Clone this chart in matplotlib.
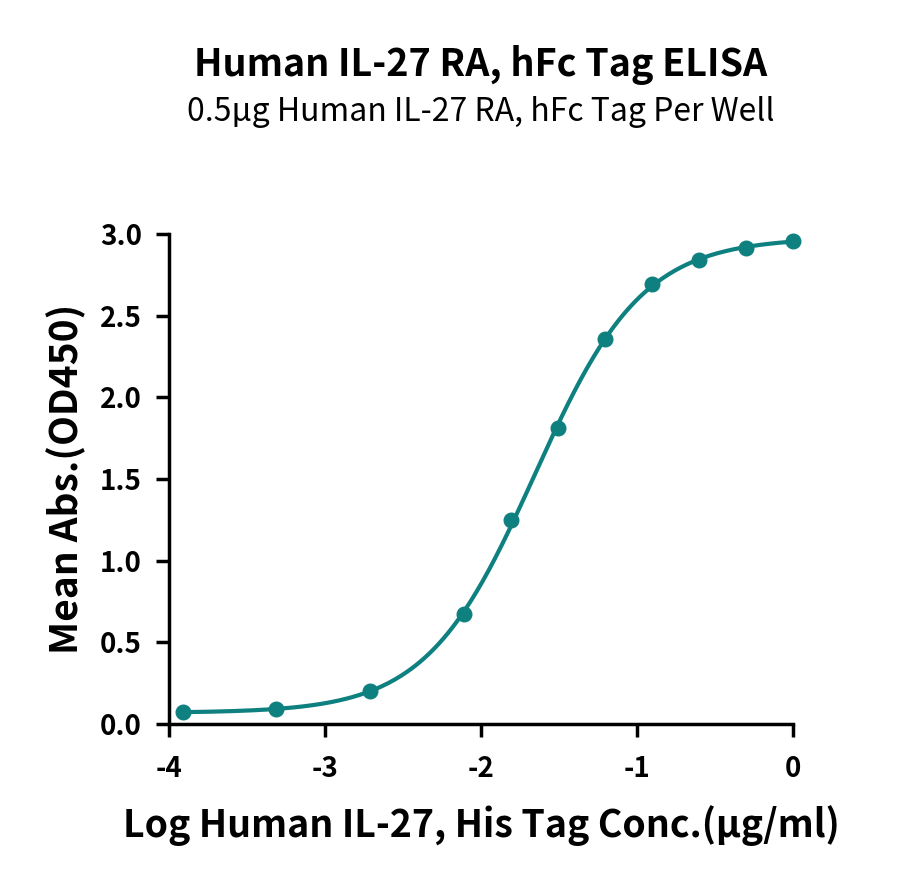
import numpy as np
import matplotlib
matplotlib.use('Agg')
import matplotlib.pyplot as plt

plt.rcParams['font.family'] = ['Noto Sans CJK SC', 'DejaVu Sans']

# data
log_conc = [-3.913, -3.311, -2.709, -2.107, -1.806, -1.505, -1.204, -0.903, -0.602, -0.301, 0.0]
mean_abs = [0.074, 0.092, 0.205, 0.672, 1.248, 1.815, 2.357, 2.695, 2.843, 2.915, 2.955]

title = 'Human IL-27 RA, hFc Tag ELISA'
subtitle = '0.5μg Human IL-27 RA, hFc Tag Per Well'
xlabel = 'Log Human IL-27, His Tag Conc.(μg/ml)'
ylabel = 'Mean Abs.(OD450)'
xticks = [-4, -3, -2, -1, 0]
yticks = [0.0, 0.5, 1.0, 1.5, 2.0, 2.5, 3.0]

color = '#0f8080'

x = np.array(log_conc)
y = np.array(mean_abs)


# 4 parameter logistic fit (simple gauss-newton, no scipy)
def fpl(p, xx):
    bot, top, ec50, hill = p
    return bot + (top - bot) / (1 + 10 ** ((ec50 - xx) * hill))


p = np.array([0.07, 3.0, -1.7, 1.2])
for it in range(200):
    r = y - fpl(p, x)
    J = np.zeros((len(x), 4))
    for k in range(4):
        dp = np.zeros(4)
        dp[k] = 1e-6
        J[:, k] = (fpl(p + dp, x) - fpl(p, x)) / 1e-6
    step = np.linalg.lstsq(J, r, rcond=None)[0]
    p = p + 0.5 * step

xs = np.linspace(x.min(), x.max(), 300)

fig = plt.figure(figsize=(9, 8.85), dpi=100)
ax = fig.add_axes([0.1878, 0.1819, 0.6933, 0.5537])

ax.plot(xs, fpl(p, xs), color=color, lw=3.0, solid_capstyle='round')
ax.plot(x, y, 'o', color=color, markersize=10.5)

ax.set_xlim(-4, 0)
ax.set_ylim(0, 3.0)
ax.set_xticks(xticks)
ax.set_xticklabels(['%d' % t for t in xticks])
ax.set_yticks(yticks)
ax.set_yticklabels(['%.1f' % t for t in yticks])

for s in ['top', 'right']:
    ax.spines[s].set_visible(False)
for s in ['left', 'bottom']:
    ax.spines[s].set_linewidth(2.5)
ax.tick_params(axis='x', width=2.5, length=9.5, labelsize=20, pad=13)
ax.tick_params(axis='y', width=2.5, length=9.5, labelsize=20, pad=10)
for lab in ax.get_xticklabels() + ax.get_yticklabels():
    lab.set_fontweight('bold')

ax.set_xlabel(xlabel, fontsize=27, fontweight='bold', labelpad=16)
ax.set_ylabel(ylabel, fontsize=28, fontweight='bold', labelpad=10)

# title centred over the plot area, like the reference
xc = ax.get_position().x0 + ax.get_position().width / 2
fig.text(xc, 1 - 65 / 885, title, ha='center', va='center', fontsize=27.2, fontweight='bold')
fig.text(xc, 1 - 112 / 885, subtitle, ha='center', va='center', fontsize=23)

for spine in ax.spines.values():
    spine.set_clip_on(False)
for line in ax.lines:
    line.set_clip_on(False)

fig.savefig('out.png', dpi=100)
